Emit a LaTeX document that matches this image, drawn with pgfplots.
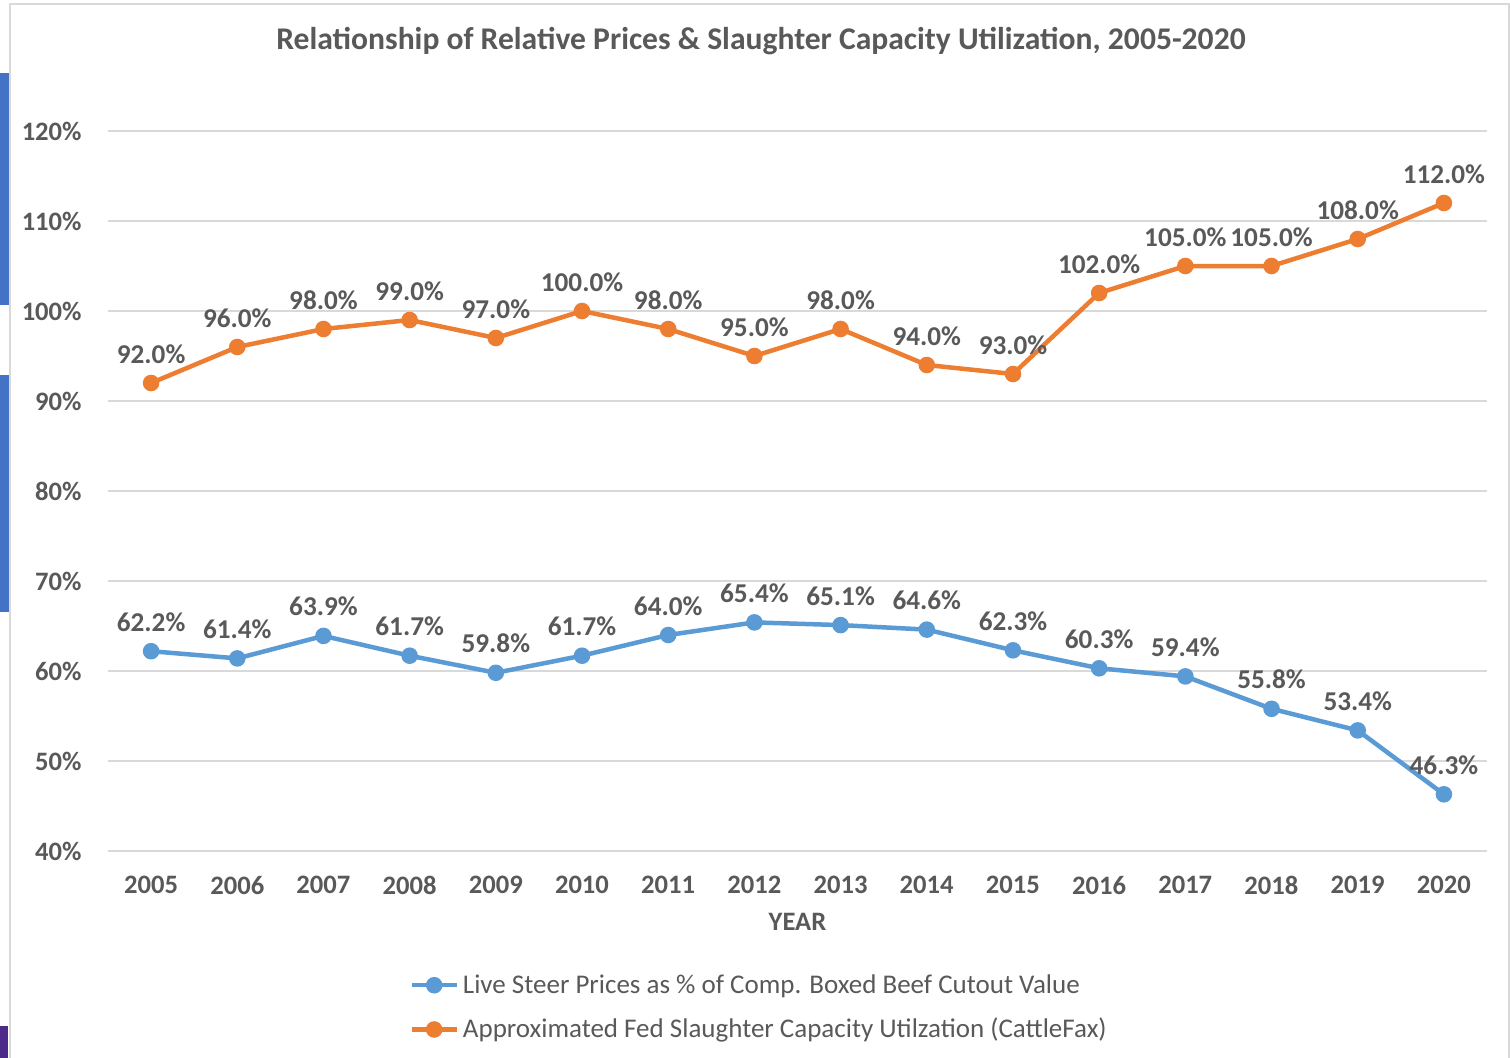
\documentclass[border=0pt]{standalone}
\usepackage{pgfplots}
\pgfplotsset{compat=1.18}
\usepackage{fontspec}
\setmainfont{Carlito}
\definecolor{cblue}{HTML}{5B9BD5}
\definecolor{corange}{HTML}{ED7D31}
\definecolor{ctext}{HTML}{595959}
\definecolor{cgrid}{HTML}{D9D9D9}
\definecolor{barblue}{HTML}{4472C4}
\definecolor{barpurple}{HTML}{4B2A8A}
\begin{document}
\begin{tikzpicture}
\path[use as bounding box] (0,0) rectangle (755pt,-529pt);
\fill[white] (0,0) rectangle (755pt,-529pt);
\draw[cgrid, line width=0.75pt] (5pt,-2pt) rectangle (754.6pt,-529.5pt);
\fill[barblue] (0,-36.5pt) rectangle (4.5pt,-152.5pt);
\fill[barblue] (0,-187.5pt) rectangle (4.5pt,-306pt);
\fill[barpurple] (0,-513pt) rectangle (4pt,-529pt);
\node[font=\bfseries\fontsize{15.8}{18}\selectfont, text=ctext] at (380.5pt,-20.5pt) {Relationship of Relative Prices \& Slaughter Capacity Utilization, 2005-2020};
\begin{axis}[
  at={(54pt,-425.5pt)}, anchor=south west,
  scale only axis, width=689.5pt, height=360pt,
  xmin=2004.5, xmax=2020.5, ymin=40, ymax=120,
  xtick={2005,...,2020}, ytick={40,50,...,120},
  /pgf/number format/assume math mode=true,
  xticklabel style={/pgf/number format/1000 sep={}, inner sep=0pt, anchor=north, yshift=-12.5pt},
  yticklabel={\pgfmathprintnumber{\tick}\%},
  yticklabel style={inner sep=0pt, anchor=east, xshift=-13pt},
  axis line style={draw=none}, major tick length=0pt,
  ymajorgrids, grid style={cgrid, line width=1pt},
  tick label style={font=\bfseries\fontsize{13.3}{15}\selectfont, text=ctext},
  xlabel={YEAR},
  xlabel style={at={(axis description cs:0.5,0)}, anchor=center, yshift=-35.5pt, font=\bfseries\fontsize{13.3}{15}\selectfont, text=ctext},
  legend style={at={(axis description cs:0.2183,-0.1652)}, anchor=north west, draw=none, fill=none,
    inner xsep=0pt, inner ysep=0pt, font=\fontsize{13.5}{16}\selectfont, text=ctext, row sep=7pt,
    cells={anchor=west}},
  legend cell align=left,
  legend image code/.code={\draw[mark repeat=2, mark phase=2] plot coordinates {(1.5pt,0pt) (12.75pt,0pt) (24pt,0pt)};},
  nodes near coords={\pgfmathprintnumber[fixed, fixed zerofill, precision=1]{\pgfplotspointmeta}\%},
  every node near coord/.append style={font=\bfseries\fontsize{13.6}{15}\selectfont, text=ctext, anchor=base, inner sep=0pt, yshift=10pt},
]
\addplot[cblue, line width=2.25pt, mark=*, mark size=3pt, mark options={fill=cblue, draw=cblue}] coordinates {
(2005,62.2) (2006,61.4) (2007,63.9) (2008,61.7) (2009,59.8) (2010,61.7) (2011,64.0) (2012,65.4)
(2013,65.1) (2014,64.6) (2015,62.3) (2016,60.3) (2017,59.4) (2018,55.8) (2019,53.4) (2020,46.3)};
\addlegendentry{Live Steer Prices as \% of Comp. Boxed Beef Cutout Value}
\addplot[corange, line width=2.25pt, mark=*, mark size=3pt, mark options={fill=corange, draw=corange}] coordinates {
(2005,92) (2006,96) (2007,98) (2008,99) (2009,97) (2010,100) (2011,98) (2012,95)
(2013,98) (2014,94) (2015,93) (2016,102) (2017,105) (2018,105) (2019,108) (2020,112)};
\addlegendentry{Approximated Fed Slaughter Capacity Utilzation (CattleFax)}
\end{axis}
\end{tikzpicture}
\end{document}
